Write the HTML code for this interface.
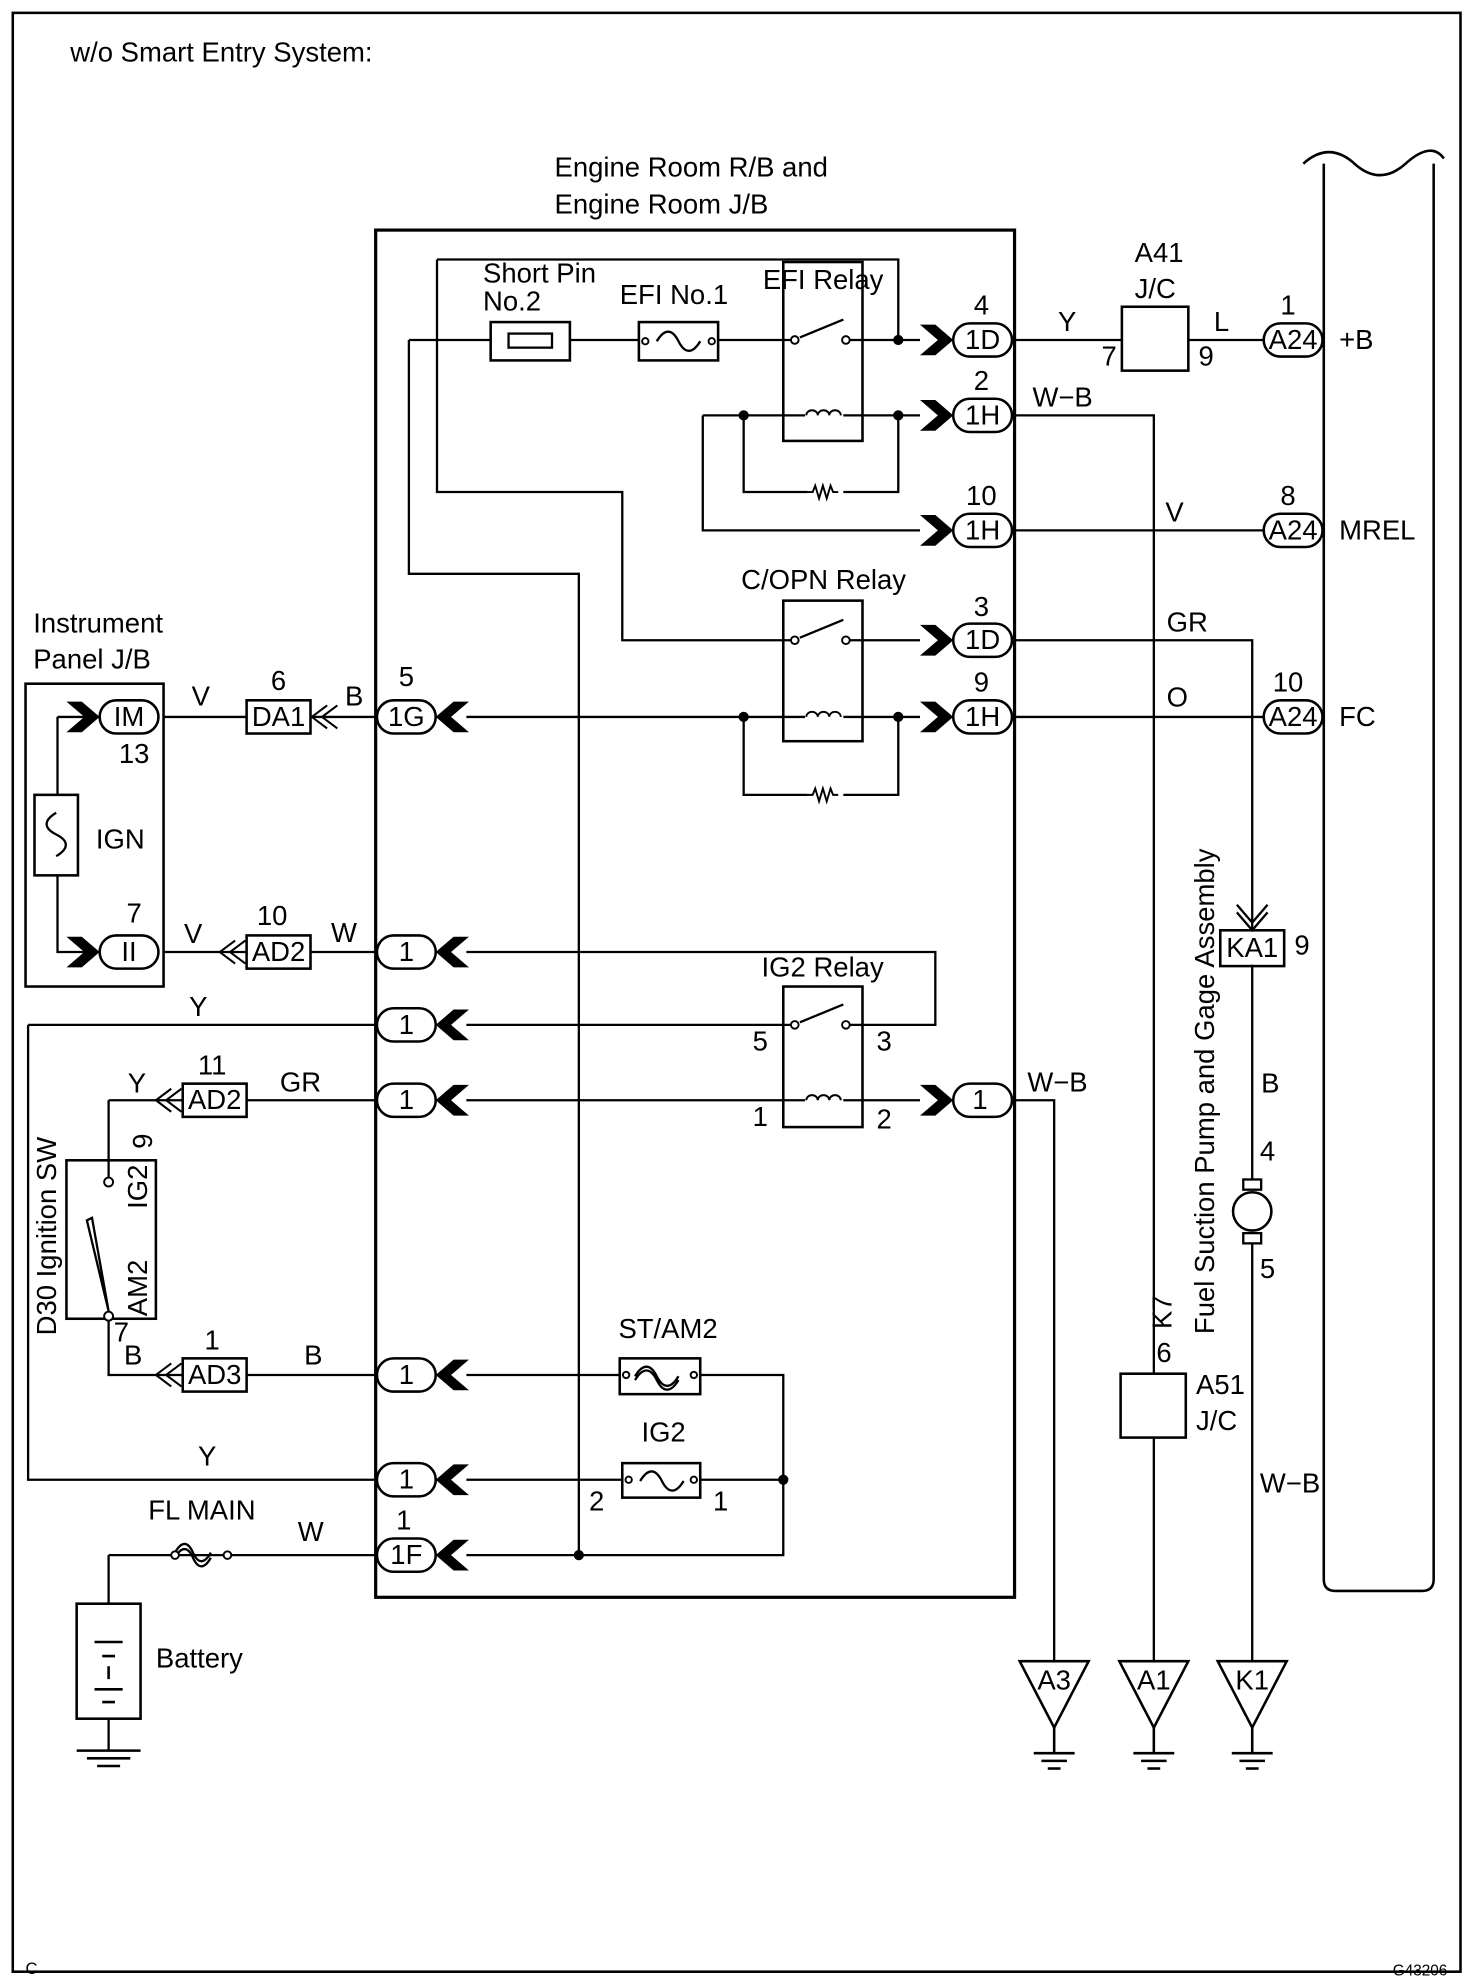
<!DOCTYPE html>
<html><head><meta charset="utf-8"><style>
html,body{margin:0;padding:0;background:#fff}
svg{display:block}
text{font-family:"Liberation Sans",sans-serif;font-size:21.5px;fill:#000}
</style></head><body>
<svg width="1472" height="1982" viewBox="0 0 1152 1551" xmlns="http://www.w3.org/2000/svg">
<defs>
<g id="chR"><polygon points="-26,-12 -14,-12 0,0 -14,12 -26,12 -12,0" fill="#000"/></g>
<g id="chL"><polygon points="26,-12 14,-12 0,0 14,12 26,12 12,0" fill="#000"/></g>
<g id="pill"><rect x="-23" y="-13" width="46" height="26" rx="13" fill="#fff" stroke="#000" stroke-width="2"/></g>
<g id="coil"><path d="M-14,0 a4.5,4 0 0 1 9,0 a4.5,4 0 0 1 9,0 a4.5,4 0 0 1 9,0" fill="none" stroke="#000" stroke-width="1.5"/></g>
<g id="res"><path d="M-14,0 h4 l2,-5 l3,10 l3,-10 l3,10 l3,-10 l2,5 h4" fill="none" stroke="#000" stroke-width="1.5"/></g>
<g id="gnd"><polygon points="-27,0 27,0 0,52" fill="#fff" stroke="#000" stroke-width="2"/><line x1="0" y1="52" x2="0" y2="72" stroke="#000" stroke-width="2"/><line x1="-16" y1="72" x2="16" y2="72" stroke="#000" stroke-width="2"/><line x1="-10" y1="78" x2="10" y2="78" stroke="#000" stroke-width="2"/><line x1="-5" y1="84" x2="5" y2="84" stroke="#000" stroke-width="2"/></g>
<g id="dchL"><path d="M-2,-9 L-14,0 L-2,9 M6,-9 L-6,0 L6,9" fill="none" stroke="#000" stroke-width="1.6"/></g>
</defs>
<rect x="10" y="10" width="1133" height="1533" fill="none" stroke="#000" stroke-width="2"/>
<text x="55" y="48">w/o Smart Entry System:</text>
<text x="434" y="138">Engine Room R/B and</text>
<text x="434" y="167">Engine Room J/B</text>
<rect x="294" y="180" width="500" height="1070" fill="none" stroke="#000" stroke-width="2.5"/>
<path d="M1036,128 V1236 q0,9 9,9 H1113 q9,0 9,-9 V128" fill="none" stroke="#000" stroke-width="2"/>
<path d="M1020,128 q20,-18 40,0 t40,0 t30,-4" fill="none" stroke="#000" stroke-width="2"/>
<g stroke="#000" stroke-width="1.8" fill="none">
<path d="M320,266 V449 H453 V1217"/>
<path d="M320,266 H384 M446,266 H500 M562,266 H622 M662,266 H720"/>
<path d="M342,203 H703 V266"/>
<path d="M342,203 V385 H487 V501 H622 M662,501 H720"/>
<path d="M550,325 H630 M660,325 H720"/>
<path d="M582,325 V385 H632 M660,385 H703 V325"/>
<path d="M550,325 V415 H720"/>
<path d="M365,561 H630 M660,561 H720"/>
<path d="M582,561 V622 H632 M660,622 H703 V561"/>
<path d="M365,745 H732 V802 H662"/>
<path d="M365,802 H622"/>
<path d="M365,861 H630 M660,861 H720"/>
<path d="M365,1076 H485 M548,1076 H613 V1217 H365"/>
<path d="M365,1158 H487 M548,1158 H613"/>
<rect x="613" y="205" width="62" height="140" stroke-width="2"/>
<rect x="613" y="470" width="62" height="110" stroke-width="2"/>
<rect x="613" y="772" width="62" height="110" stroke-width="2"/>
<path d="M626,264 L660,250 M626,499 L660,485 M626,800 L660,786"/>
<rect x="384" y="252" width="62" height="30" stroke-width="2"/>
<rect x="398" y="261" width="34" height="11"/>
<rect x="500" y="252" width="62" height="30" stroke-width="2"/>
<path d="M514,267 c6,-10 12,-10 17,0 c5,10 11,10 17,0"/>
<rect x="485" y="1063" width="63" height="28" stroke-width="2"/>
<path d="M497,1077 c6,-10 12,-10 17,0 c5,10 11,10 17,0 M497,1080 c6,-10 12,-10 17,0 c5,10 11,10 17,0"/>
<rect x="487" y="1145" width="61" height="27" stroke-width="2"/>
<path d="M501,1159 c6,-10 12,-10 17,0 c5,10 11,10 17,0"/>
<path d="M794,266 H878 M930,266 H989"/>
<path d="M794,325 H903 V1075 M903,1125 V1300"/>
<path d="M794,415 H989"/>
<path d="M794,501 H980 V728"/>
<path d="M794,561 H989"/>
<path d="M794,861 H825 V1300"/>
<path d="M980,755 V925 M980,972 V1300"/>
<rect x="878" y="240" width="52" height="50" stroke-width="2"/>
<rect x="877" y="1075" width="51" height="50" stroke-width="2"/>
<rect x="955" y="728" width="50" height="28" stroke-width="2"/>
<path d="M968,708 L980,722 L992,708 M968,714 L980,728 L992,714"/>
<circle cx="980" cy="948" r="15" stroke-width="2"/>
<rect x="973" y="923" width="14" height="8" fill="#fff"/>
<rect x="973" y="965" width="14" height="8" fill="#fff"/>
<path d="M243,561 H294 M128,561 H193"/>
<path d="M128,745 H193 M243,745 H294"/>
<path d="M193,861 H294"/>
<path d="M193,1076 H294"/>
<path d="M22,802 H294 M22,802 V1158 H294"/>
<rect x="20" y="535" width="108" height="237" stroke-width="2"/>
<path d="M45,561 H77 M45,561 V622 M45,685 V745 H77"/>
<rect x="27" y="622" width="34" height="63" stroke-width="2"/>
<path d="M44,636 c-10,6 -10,12 0,17 c10,5 10,11 0,17"/>
<rect x="193" y="548" width="50" height="26" stroke-width="2"/>
<rect x="193" y="732" width="50" height="26" stroke-width="2"/>
<rect x="143" y="848" width="50" height="26" stroke-width="2"/>
<rect x="143" y="1063" width="50" height="26" stroke-width="2"/>
<path d="M85,861 H143 M85,861 V922"/>
<rect x="52" y="908" width="70" height="124" stroke-width="2"/>
<path d="M85,1034 V1076 H143"/>
<path d="M85,1026 L68,955 L72,953 Z"/>
<path d="M85,1217 H178 M85,1217 V1255 M85,1345 V1370 M178,1217 H294"/>
<rect x="60" y="1255" width="50" height="90" stroke-width="2"/>
<path d="M74,1285 H96 M80,1296 H90 M85,1304 V1314 M74,1322 H96 M80,1332 H90" stroke-width="2"/>
<path d="M137,1219 c5,-9 10,-9 14,0 c4,9 9,9 14,0 M137,1215 c5,-9 10,-9 14,0 c4,9 9,9 14,0"/>
<path d="M60,1370 H110 M68,1376 H102 M76,1382 H94" stroke-width="2"/>
</g>
<g fill="#fff" stroke="#000" stroke-width="1.5">
<circle cx="622" cy="266" r="3"/><circle cx="662" cy="266" r="3"/>
<circle cx="622" cy="501" r="3"/><circle cx="662" cy="501" r="3"/>
<circle cx="622" cy="802" r="3"/><circle cx="662" cy="802" r="3"/>
<circle cx="85" cy="925" r="3.5"/><circle cx="85" cy="1030" r="3.5"/>
<circle cx="137" cy="1217" r="3"/><circle cx="178" cy="1217" r="3"/>
<circle cx="490" cy="1076" r="2.5"/><circle cx="543" cy="1076" r="2.5"/>
<circle cx="492" cy="1158" r="2.5"/><circle cx="543" cy="1158" r="2.5"/>
<circle cx="505" cy="267" r="2.5"/><circle cx="557" cy="267" r="2.5"/>
</g>
<g fill="#000">
<circle cx="703" cy="266" r="4"/><circle cx="582" cy="325" r="4"/><circle cx="703" cy="325" r="4"/>
<circle cx="582" cy="561" r="4"/><circle cx="703" cy="561" r="4"/>
<circle cx="613" cy="1158" r="4"/><circle cx="453" cy="1217" r="4"/>
</g>
<use href="#coil" x="645" y="325"/><use href="#coil" x="645" y="561"/><use href="#coil" x="645" y="861"/>
<use href="#res" x="646" y="385"/><use href="#res" x="646" y="622"/>
<use href="#chR" x="746" y="266"/><use href="#pill" x="769" y="266"/>
<use href="#chR" x="746" y="325"/><use href="#pill" x="769" y="325"/>
<use href="#chR" x="746" y="415"/><use href="#pill" x="769" y="415"/>
<use href="#chR" x="746" y="501"/><use href="#pill" x="769" y="501"/>
<use href="#chR" x="746" y="561"/><use href="#pill" x="769" y="561"/>
<use href="#chR" x="746" y="861"/><use href="#pill" x="769" y="861"/>
<use href="#pill" x="1012" y="266"/><use href="#pill" x="1012" y="415"/><use href="#pill" x="1012" y="561"/>
<use href="#chL" x="341" y="561"/><use href="#pill" x="318" y="561"/>
<use href="#chL" x="341" y="745"/><use href="#pill" x="318" y="745"/>
<use href="#chL" x="341" y="802"/><use href="#pill" x="318" y="802"/>
<use href="#chL" x="341" y="861"/><use href="#pill" x="318" y="861"/>
<use href="#chL" x="341" y="1076"/><use href="#pill" x="318" y="1076"/>
<use href="#chL" x="341" y="1158"/><use href="#pill" x="318" y="1158"/>
<use href="#chL" x="341" y="1217"/><use href="#pill" x="318" y="1217"/>
<use href="#chR" x="78" y="561"/><use href="#pill" x="101" y="561"/>
<use href="#chR" x="78" y="745"/><use href="#pill" x="101" y="745"/>
<use href="#dchL" x="258" y="561"/><use href="#dchL" x="186" y="745"/>
<use href="#dchL" x="136" y="861"/><use href="#dchL" x="136" y="1076"/>
<use href="#gnd" x="825" y="1300"/><use href="#gnd" x="903" y="1300"/><use href="#gnd" x="980" y="1300"/>
<g text-anchor="middle">
<text x="769" y="273">1D</text><text x="769" y="332">1H</text><text x="769" y="422">1H</text>
<text x="769" y="508">1D</text><text x="769" y="568">1H</text><text x="767" y="868">1</text>
<text x="1012" y="273">A24</text><text x="1012" y="422">A24</text><text x="1012" y="568">A24</text>
<text x="318" y="568">1G</text><text x="318" y="752">1</text><text x="318" y="809">1</text>
<text x="318" y="868">1</text><text x="318" y="1083">1</text><text x="318" y="1165">1</text><text x="318" y="1224">1F</text>
<text x="101" y="568">IM</text><text x="101" y="752">II</text>
<text x="218" y="568">DA1</text><text x="218" y="752">AD2</text><text x="168" y="868">AD2</text><text x="168" y="1083">AD3</text>
<text x="980" y="749">KA1</text>
<text x="825" y="1322">A3</text><text x="903" y="1322">A1</text><text x="980" y="1322">K1</text>
<text x="768" y="246">4</text><text x="768" y="305">2</text><text x="768" y="395">10</text>
<text x="768" y="482">3</text><text x="768" y="541">9</text>
<text x="1008" y="246">1</text><text x="1008" y="395">8</text><text x="1008" y="541">10</text>
<text x="318" y="537">5</text><text x="218" y="540">6</text><text x="213" y="724">10</text>
<text x="166" y="841">11</text><text x="166" y="1056">1</text><text x="316" y="1197">1</text>
<text x="105" y="597">13</text><text x="105" y="722">7</text>
</g>
<text x="1048" y="273">+B</text><text x="1048" y="422">MREL</text><text x="1048" y="568">FC</text>
<text x="378" y="221">Short Pin</text><text x="378" y="243">No.2</text>
<text x="485" y="238">EFI No.1</text><text x="597" y="226">EFI Relay</text>
<text x="580" y="461">C/OPN Relay</text><text x="596" y="764">IG2 Relay</text>
<text x="589" y="822">5</text><text x="686" y="822">3</text><text x="589" y="881">1</text><text x="686" y="883">2</text>
<text x="888" y="205">A41</text><text x="888" y="233">J/C</text>
<text x="862" y="286">7</text><text x="938" y="286">9</text>
<text x="828" y="259">Y</text><text x="950" y="259">L</text>
<text x="808" y="318">W−B</text><text x="912" y="408">V</text><text x="913" y="494">GR</text><text x="913" y="553">O</text>
<text x="804" y="854">W−B</text>
<text x="1013" y="747">9</text><text x="987" y="855">B</text><text x="986" y="908">4</text><text x="986" y="1000">5</text>
<text x="986" y="1168">W−B</text>
<text x="905" y="1066">6</text><text x="936" y="1091">A51</text><text x="936" y="1119">J/C</text>
<text x="26" y="495">Instrument</text><text x="26" y="523">Panel J/B</text>
<text x="75" y="664">IGN</text>
<text x="150" y="552">V</text><text x="270" y="552">B</text>
<text x="144" y="738">V</text><text x="259" y="737">W</text>
<text x="148" y="795">Y</text><text x="100" y="855">Y</text><text x="219" y="854">GR</text>
<text x="97" y="1068">B</text><text x="238" y="1068">B</text><text x="155" y="1147">Y</text>
<text x="484" y="1047">ST/AM2</text><text x="502" y="1128">IG2</text>
<text x="461" y="1182">2</text><text x="558" y="1182">1</text>
<text x="116" y="1189">FL MAIN</text><text x="233" y="1206">W</text>
<text x="122" y="1305">Battery</text>
<text x="89" y="1050">7</text>
<text transform="translate(104,887) rotate(90)">6</text>
<text transform="translate(44,1045) rotate(-90)">D30 Ignition SW</text>
<text transform="translate(115,946) rotate(-90)">IG2</text>
<text transform="translate(115,1030) rotate(-90)">AM2</text>
<text transform="translate(917,1040) rotate(-90)">K7</text>
<text transform="translate(950,1044) rotate(-90)">Fuel Suction Pump and Gage Assembly</text>
<text x="20" y="1545" style="font-size:13px">C</text>
<text x="1090" y="1546" style="font-size:12px">G43206</text>
</svg>
</body></html>
